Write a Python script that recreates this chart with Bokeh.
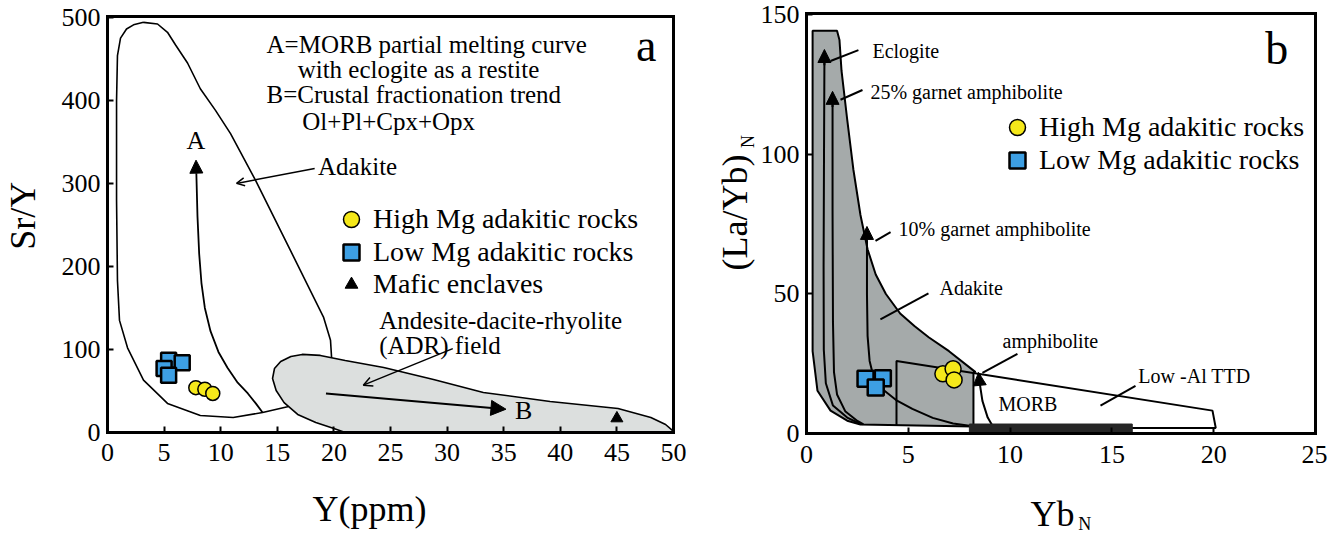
import math
from bokeh.plotting import figure
from bokeh.layouts import row
from bokeh.models import (Range1d, Label, Arrow, NormalHead, OpenHead, Legend, LegendItem,
                          FixedTicker, LinearAxis)
from bokeh.core.properties import value
from bokeh.embed import file_html
from bokeh.resources import INLINE

FONT = "Liberation Serif"
YELLOW = "#f5e81a"
BLUE = "#3d9fe3"

# ---------------- Panel a : Sr/Y vs Y ----------------
a_x_ticks = [0, 5, 10, 15, 20, 25, 30, 35, 40, 45, 50]
a_y_ticks = [0, 100, 200, 300, 400, 500]

a_high_y = [7.8, 8.6, 9.3]
a_high_sry = [54, 52, 47]
a_low_y = [5.4, 6.6, 5.0, 5.4]
a_low_sry = [87, 84, 77, 69]
a_mafic_y = [45.0]
a_mafic_sry = [17]

adakite_x = [3.18, 4.42, 5.3, 6.0, 7.07, 8.2, 9.54, 10.87, 13.07, 16.17, 19.08, 19.7, 19.8, 18.6, 15.9,
             13.7, 11.1, 8.2, 5.3, 3.18, 1.77, 1.06, 0.88, 0.8, 0.8, 0.88, 1.15, 1.68, 2.3, 3.18]
adakite_sry = [494, 492, 482, 467, 445, 414, 388, 360, 304, 219, 139, 111, 89, 57, 31,
               24, 18, 20.5, 35, 63, 102, 135, 183, 280, 400, 454, 475, 486, 491, 494]

curveA_x = [13.7, 13.1, 12.4, 11.5, 10.6, 9.8, 9.1, 8.6, 8.3, 8.1, 7.95, 7.85]
curveA_sry = [24, 35, 47, 60, 78, 97, 122, 150, 180, 215, 260, 312]

adr_x = [14.58, 14.75, 15.3, 16.2, 17.2, 18.8, 21.0, 24.4, 28.8, 33.2, 39.1, 45.1, 48.0, 49.3, 50.0,
         50.0, 21.0, 20.0, 18.4, 16.8, 15.6, 14.9, 14.58]
adr_sry = [65, 77, 85.5, 91.6, 94, 92.8, 86.7, 78.3, 63.9, 48.2, 37.3, 28.9, 18, 9.6, 1.2,
           0, 0, 4.8, 12, 21.7, 36, 50.6, 65]

# ---------------- Panel b : (La/Yb)N vs YbN ----------------
b_x_ticks = [0, 5, 10, 15, 20, 25]
b_y_ticks = [0, 50, 100, 150]

b_high_yb = [6.7, 7.2, 7.25]
b_high_layb = [21.4, 23.2, 19.2]
b_low_yb = [2.9, 3.75, 3.4]
b_low_layb = [19.6, 19.8, 16.5]

gray_x = [0.3, 1.5, 1.62, 1.72, 2.0, 2.3, 2.65, 3.0, 3.4, 3.9, 4.6, 5.3, 6.0, 7.0, 8.3,
          8.2, 8.2, 2.65, 2.0, 1.18, 0.54, 0.3, 0.3]
gray_layb = [144.3, 144.3, 141, 130, 112.5, 94.7, 78.3, 66, 57, 50, 43, 38.5, 34.5, 29.5, 22.0,
             21.9, 2.5, 3.2, 4.6, 8.2, 15.3, 29.5, 144.3]

box_x = [4.42, 4.42, 19.94, 20.1, 8.2]
box_layb = [2.8, 26, 8.2, 2.0, 2.0]

eclogite_x = [2.65, 2.0, 1.3, 0.95, 0.85, 0.84, 0.86, 0.88]
eclogite_layb = [3.4, 5.7, 10, 18, 30, 60, 100, 133]
g25_x = [2.8, 2.5, 1.9, 1.5, 1.35, 1.3, 1.28, 1.28]
g25_layb = [3.3, 4.5, 8, 14, 22, 40, 80, 118]
g10_x = [8.0, 7.2, 6.2, 5.2, 4.4, 3.8, 3.3, 3.1, 3.0, 2.97, 2.97]
g10_layb = [2.8, 3.6, 5.6, 8.8, 12, 15.5, 20, 26, 35, 50, 69]
amph_x = [9.1, 8.9, 8.64, 8.55, 8.5]
amph_layb = [3.2, 5.7, 11.7, 16, 18.5]

morb_bar = dict(left=[8.0], right=[16.0], bottom=[0.0], top=[3.4])


def axis_style(ax, ticks, label_size="26px", show_labels=True):
    ax.ticker = FixedTicker(ticks=ticks)
    ax.axis_line_width = 3
    ax.axis_line_color = "black"
    ax.axis_line_cap = "square"
    ax.major_tick_in = 6
    ax.major_tick_out = 0
    ax.major_tick_line_width = 2
    ax.major_tick_line_color = "black"
    ax.minor_tick_line_color = None
    ax.major_label_text_font = FONT
    ax.major_label_text_font_size = label_size if show_labels else "0px"
    ax.major_label_text_color = "black"


def add_box_axes(p, x0, x1, y0, y1, xt, yt):
    xa = LinearAxis(fixed_location=y0, bounds=(x0, x1))
    axis_style(xa, xt)
    xa.major_label_standoff = 12
    p.add_layout(xa, "below")
    ya = LinearAxis(fixed_location=x0, bounds=(y0, y1))
    axis_style(ya, yt)
    ya.major_label_standoff = 7
    p.add_layout(ya, "left")
    ta = LinearAxis(fixed_location=y1, bounds=(x0, x1))
    axis_style(ta, [], show_labels=False)
    p.add_layout(ta, "above")
    ra = LinearAxis(fixed_location=x1, bounds=(y0, y1))
    axis_style(ra, [], show_labels=False)
    p.add_layout(ra, "right")


def make_fig(w, h, xr, yr):
    p = figure(width=w, height=h, x_range=Range1d(*xr), y_range=Range1d(*yr),
               x_axis_location=None, y_axis_location=None, title=None,
               output_backend="svg", toolbar_location=None, min_border=0)
    p.grid.visible = False
    p.outline_line_color = None
    p.background_fill_color = "white"
    p.border_fill_color = "white"
    return p


def label(p, x, y, text, size, align="left", angle=0.0):
    p.add_layout(Label(x=x, y=y, text=text, text_font=FONT, text_font_size=size,
                       text_color="black", text_align=align, text_baseline="middle", angle=angle))


def legend(p, r, text, loc, g):
    p.add_layout(Legend(items=[LegendItem(label=value(text), renderers=[r])], location=loc,
                        glyph_width=g, glyph_height=g, padding=0, margin=0,
                        label_standoff=2 if g == 40 else 6,
                        label_text_font=FONT, label_text_font_size="28px",
                        label_text_color="black", background_fill_alpha=0, border_line_alpha=0))


# ---------- figure a ----------
pa = make_fig(700, 533, (-9.452, 52.385), (-121.7, 520.3))
add_box_axes(pa, 0, 50, 0, 501, a_x_ticks, a_y_ticks)

pa.line(adakite_x, adakite_sry, line_color="black", line_width=1.6)
pa.line(curveA_x, curveA_sry, line_color="black", line_width=1.8)
pa.add_layout(Arrow(end=NormalHead(size=13, fill_color="black", line_color="black"),
                    x_start=curveA_x[-1], y_start=curveA_sry[-1], x_end=7.82, y_end=328,
                    line_color="black", line_width=1.8))
pa.patch(adr_x, adr_sry, fill_color="#dcdfde", line_color="black", line_width=1.6)
pa.add_layout(Arrow(end=NormalHead(size=15, fill_color="black", line_color="black"),
                    x_start=19.3, y_start=47, x_end=35.2, y_end=28,
                    line_color="black", line_width=2))
pa.add_layout(Arrow(end=OpenHead(size=8, line_color="black", line_width=1.5),
                    x_start=18.3, y_start=318, x_end=11.4, y_end=300,
                    line_color="black", line_width=1.5))
pa.add_layout(Arrow(end=OpenHead(size=9, line_color="black", line_width=1.5),
                    x_start=30.5, y_start=101, x_end=22.6, y_end=57,
                    line_color="black", line_width=1.5))

ra_low = pa.scatter(a_low_y, a_low_sry, marker="square", size=15, fill_color=BLUE,
                    line_color="black", line_width=2.5)
ra_high = pa.scatter(a_high_y, a_high_sry, marker="circle", size=14, fill_color=YELLOW,
                     line_color="black", line_width=1.5)
ra_maf = pa.scatter(a_mafic_y, a_mafic_sry, marker="triangle", size=12, fill_color="black",
                    line_color="black")

label(pa, 14.05, 467, "A=MORB partial melting curve", "25px")
label(pa, 16.8, 437, "with eclogite as a restite", "25px")
label(pa, 14.05, 407, "B=Crustal fractionation trend", "25px")
label(pa, 17.2, 375, "Ol+Pl+Cpx+Opx", "25px")
label(pa, 18.6, 320, "Adakite", "25px")
label(pa, 24.0, 135, "Andesite-dacite-rhyolite", "25px")
label(pa, 24.0, 105, "(ADR) field", "25px")
label(pa, 7.8, 352, "A", "26px", align="center")
label(pa, 36.0, 27, "B", "26px")
label(pa, 47.6, 466, "a", "46px", align="center")
label(pa, -7.45, 261, "Sr/Y", "36px", align="center", angle=math.pi / 2)
label(pa, 18.1, -92, "Y(ppm)", "36px")

legend(pa, ra_high, "High Mg adakitic rocks", (331, 294), 40)
legend(pa, ra_low, "Low Mg adakitic rocks", (331, 261), 40)
legend(pa, ra_maf, "Mafic enclaves", (335, 233), 32)

# ---------- figure b ----------
pb = make_fig(627, 533, (-5.206, 25.589), (-35.83, 155.16))
add_box_axes(pb, 0, 25, 0, 150.5, b_x_ticks, b_y_ticks)

pb.patch(gray_x, gray_layb, fill_color="#a5aaaa", line_color="black", line_width=2)
pb.line(box_x, box_layb, line_color="black", line_width=2)
pb.line(eclogite_x, eclogite_layb, line_color="black", line_width=2)
pb.line(g25_x, g25_layb, line_color="black", line_width=2)
pb.line(g10_x, g10_layb, line_color="black", line_width=2)
pb.line(amph_x, amph_layb, line_color="black", line_width=2)
pb.quad(**morb_bar, fill_color="#262626", line_color="#262626")

for xs, ys, xe, ye in [(0.88, 132, 0.88, 137.6), (1.28, 117, 1.28, 122.6), (2.97, 68, 2.97, 74.2),
                       (8.5, 18.0, 8.45, 21.9)]:
    pb.add_layout(Arrow(end=NormalHead(size=13, fill_color="black", line_color="black"),
                        x_start=xs, y_start=ys, x_end=xe, y_end=ye,
                        line_color="black", line_width=2))

pointer_xs = [[2.55, 1.18], [2.75, 1.67], [4.13, 3.39], [5.99, 3.63], [10.36, 8.64], [16.16, 14.44]]
pointer_ys = [[137.4, 133.5], [123.1, 119.6], [72.2, 69.0], [50.2, 40.9], [28.5, 21.7], [17.1, 10.0]]
pb.multi_line(pointer_xs, pointer_ys, line_color="black", line_width=2)

rb_low = pb.scatter(b_low_yb, b_low_layb, marker="square", size=16, fill_color=BLUE,
                    line_color="black", line_width=2.5)
rb_high = pb.scatter(b_high_yb, b_high_layb, marker="circle", size=16, fill_color=YELLOW,
                     line_color="black", line_width=1.5)

label(pb, 3.24, 137, "Eclogite", "20px")
label(pb, 3.14, 122.4, "25% garnet amphibolite", "20px")
label(pb, 4.52, 73.3, "10% garnet amphibolite", "20px")
label(pb, 6.53, 52, "Adakite", "20px")
label(pb, 9.63, 33.1, "amphibolite", "20px")
label(pb, 9.43, 10.7, "MORB", "20px")
label(pb, 16.3, 20.6, "Low -Al TTD", "20px")
label(pb, 23.1, 138, "b", "46px", align="center")
label(pb, -3.49, 79.2, "(La/Yb)", "36px", align="center", angle=math.pi / 2)
label(pb, -2.85, 104.6, "N", "18px", align="center", angle=math.pi / 2)
label(pb, 11.0, -28.7, "Yb", "36px")
label(pb, 13.35, -32.6, "N", "18px")

legend(pb, rb_high, "High Mg adakitic rocks", (297, 386), 40)
legend(pb, rb_low, "Low Mg adakitic rocks", (297, 353), 40)

layout = row(pa, pb)
open("out.html", "w").write(file_html(layout, INLINE))
